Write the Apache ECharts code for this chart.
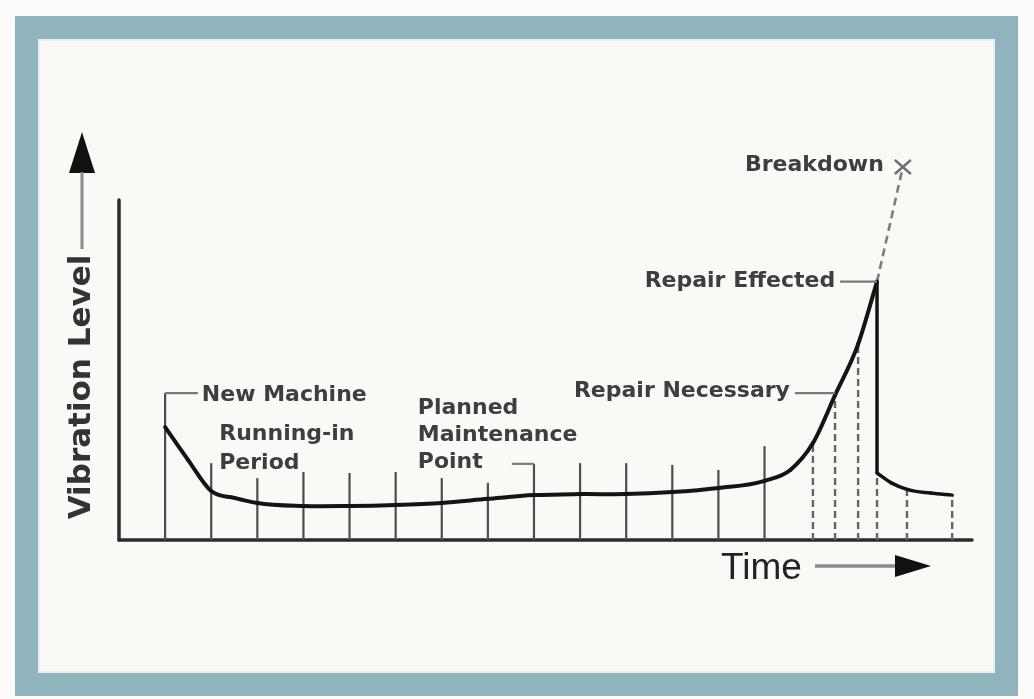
<!DOCTYPE html>
<html>
<head>
<meta charset="utf-8">
<title>Vibration Level vs Time</title>
<script src="https://cdn.jsdelivr.net/npm/echarts@6/dist/echarts.min.js"></script>
<style>
  html, body { margin: 0; padding: 0; background: #fbfbfa; }
  #chart { width: 1034px; height: 699px; }
</style>
</head>
<body>
<div id="chart"></div>
<script>
// Machine condition: vibration level over operating time.
// Time is counted in inspection intervals; level is on a 0-100 scale.

// Routine readings (solid vertical lines) and how high each line rises
const tickTimes = [1, 2, 3, 4, 5, 6, 7, 8, 9, 10, 11, 12, 13, 14];
const tickTops  = [43.2, 22.6, 18.2, 20.0, 19.7, 20.0, 18.2, 16.8, 22.4, 22.6, 22.6, 22.1, 20.6, 27.6];

// Closer readings once wear sets in, plus readings after the repair (dashed)
const checkTimes = [15.05, 15.53, 16.03, 16.44, 17.09, 18.07];
const checkTops  = [28.5, 42.6, 57.6, 19.7, 14.9, 13.2];

// Vibration from new machine up to the repair
const wearTime  = [1, 1.5, 2, 2.5, 3, 4, 5, 6, 7, 8, 9, 10, 11, 12, 13, 14, 14.56, 15.05, 15.53, 16.03, 16.44];
const wearLevel = [33.2, 23.5, 14.4, 12.4, 10.9, 10.0, 10.0, 10.3, 10.9, 12.1, 13.2, 13.5, 13.5, 14.1, 15.3, 17.4, 20.6, 28.5, 42.6, 57.6, 76.0];

// Drop in vibration when the repair is made
const repairTime  = [16.44, 16.44];
const repairLevel = [76.0, 19.7];

// Settling after the repair
const afterTime  = [16.44, 16.75, 17.09, 17.6, 18.07];
const afterLevel = [19.7, 16.8, 14.9, 13.8, 13.2];

// Where vibration would have gone without a repair
const breakdownTime  = [16.44, 17.0];
const breakdownLevel = [76.0, 109.7];

// Annotations: text, anchor (time, level) and where the leader line ends
const noteTexts  = ['New Machine', 'Running-in\nPeriod', 'Planned\nMaintenance\nPoint', 'Repair Necessary', 'Repair Effected', 'Breakdown'];
const noteTimes  = [1.71, 2, 8.52, 14.66, 15.64, 17.0];
const noteLevels = [43.2, 22.6, 22.4, 43.2, 76.0, 109.7];
const leaderEnds = [1, null, 9, 15.53, 16.44, null];

// Axis titles
const yTitle = 'Vibration Level';
const xTitle = 'Time';

// Text placement relative to each anchor, in pixels
const noteLayout = [
  { dx: 4,   dy: 2,  align: 'left',  lineH: 28 },
  { dx: 8,   dy: 0,  align: 'left',  lineH: 29 },
  { dx: -94, dy: -2, align: 'left',  lineH: 27 },
  { dx: -5,  dy: -2, align: 'right', lineH: 28 },
  { dx: -5,  dy: 0,  align: 'right', lineH: 28 },
  { dx: -19, dy: -2, align: 'right', lineH: 28 }
];

const pairs = (xs, ys) => xs.map((x, i) => [x, ys[i]]);

const noteFont = 'bold 22px "DejaVu Sans", sans-serif';
const inkText = '#3e3e3e';
const inkCurve = '#141414';
const inkTick = '#4d4d4d';
const inkLeader = '#7a7a7a';

// Smooth curve through the readings: each item draws the cubic Hermite
// segment to the next reading, with slopes from neighbouring readings.
function curveSegments(times, levels, width) {
  return (params, api) => {
    const i = params.dataIndex;
    const n = times.length;
    if (i >= n - 1) return null;
    const P = k => api.coord([times[k], levels[k]]);
    const slope = k => {
      const p = P(k);
      if (k === 0) { const q = P(1); return (q[1] - p[1]) / (q[0] - p[0]); }
      if (k === n - 1) { const o = P(k - 1); return (p[1] - o[1]) / (p[0] - o[0]); }
      const o = P(k - 1), q = P(k + 1);
      const h0 = p[0] - o[0], h1 = q[0] - p[0];
      const d0 = (p[1] - o[1]) / h0, d1 = (q[1] - p[1]) / h1;
      return (d0 * h1 + d1 * h0) / (h0 + h1);
    };
    const a = P(i), b = P(i + 1), h = b[0] - a[0];
    const ma = slope(i), mb = slope(i + 1);
    return {
      type: 'bezierCurve',
      shape: {
        x1: a[0], y1: a[1], x2: b[0], y2: b[1],
        cpx1: a[0] + h / 3, cpy1: a[1] + ma * h / 3,
        cpx2: b[0] - h / 3, cpy2: b[1] - mb * h / 3
      },
      style: { fill: 'none', stroke: inkCurve, lineWidth: width, lineCap: 'round' }
    };
  };
}

const chart = echarts.init(document.getElementById('chart'), null, { renderer: 'canvas' });

chart.setOption({
  animation: false,
  backgroundColor: '#fbfbfa',
  grid: { left: 119, right: 62, top: 200, bottom: 159, containLabel: false },
  xAxis: {
    type: 'value', min: 0, max: 18.5,
    axisLine: { show: true, onZero: false, lineStyle: { color: '#2b2b2b', width: 3.5 } },
    axisTick: { show: false }, axisLabel: { show: false }, splitLine: { show: false }
  },
  yAxis: {
    type: 'value', min: 0, max: 100,
    axisLine: { show: true, onZero: false, lineStyle: { color: '#2b2b2b', width: 3.5 } },
    axisTick: { show: false }, axisLabel: { show: false }, splitLine: { show: false }
  },
  graphic: [
    // blue card frame
    { type: 'rect', z: -20, shape: { x: 15, y: 16, width: 1003, height: 680 }, style: { fill: '#8fb4be' } },
    { type: 'rect', z: -19, shape: { x: 38, y: 39, width: 957, height: 634 }, style: { fill: '#e6eff1' } },
    { type: 'rect', z: -18, shape: { x: 40, y: 41, width: 953, height: 630 }, style: { fill: '#fbf9f6' } },
    // vertical axis title with arrow
    { type: 'polygon', z: 10, shape: { points: [[82, 132], [69, 173], [95, 173]] }, style: { fill: '#111' } },
    { type: 'line', z: 10, shape: { x1: 82, y1: 172, x2: 82, y2: 249 }, style: { stroke: '#8a8a8a', lineWidth: 3 } },
    {
      type: 'text', z: 10, x: 82, y: 387, rotation: Math.PI / 2,
      style: { text: yTitle, font: 'bold 31px "DejaVu Sans", sans-serif', fill: '#333', align: 'center', verticalAlign: 'middle' }
    },
    // horizontal axis title with arrow
    {
      type: 'text', z: 10, x: 721, y: 569,
      style: { text: xTitle, font: '37px "Liberation Sans", sans-serif', fill: '#222', align: 'left', verticalAlign: 'middle' }
    },
    { type: 'line', z: 10, shape: { x1: 815, y1: 566, x2: 898, y2: 566 }, style: { stroke: '#8a8a8a', lineWidth: 3.5 } },
    { type: 'polygon', z: 10, shape: { points: [[931, 566], [895, 555], [895, 577]] }, style: { fill: '#111' } }
  ],
  series: [
    {
      // routine readings
      type: 'custom', z: 1,
      data: pairs(tickTimes, tickTops),
      encode: { x: 0, y: 1 },
      renderItem: (params, api) => {
        const a = api.coord([api.value(0), 0]);
        const b = api.coord([api.value(0), api.value(1)]);
        return { type: 'line', shape: { x1: a[0], y1: a[1], x2: b[0], y2: b[1] }, style: { stroke: inkTick, lineWidth: 2.2 } };
      }
    },
    {
      // closer readings and post-repair readings
      type: 'custom', z: 1,
      data: pairs(checkTimes, checkTops),
      encode: { x: 0, y: 1 },
      renderItem: (params, api) => {
        const a = api.coord([api.value(0), 0]);
        const b = api.coord([api.value(0), api.value(1)]);
        return { type: 'line', shape: { x1: a[0], y1: a[1], x2: b[0], y2: b[1] }, style: { stroke: '#666', lineWidth: 2.4, lineDash: [7, 4] } };
      }
    },
    {
      // wear curve
      type: 'custom', z: 5,
      data: pairs(wearTime, wearLevel),
      encode: { x: 0, y: 1 },
      renderItem: curveSegments(wearTime, wearLevel, 4)
    },
    {
      type: 'line', z: 5, clip: false,
      data: pairs(repairTime, repairLevel),
      showSymbol: false, symbol: 'none',
      lineStyle: { color: inkCurve, width: 3.5 }
    },
    {
      // settling after repair
      type: 'custom', z: 5,
      data: pairs(afterTime, afterLevel),
      encode: { x: 0, y: 1 },
      renderItem: curveSegments(afterTime, afterLevel, 3.5)
    },
    {
      type: 'line', z: 4, clip: false,
      data: pairs(breakdownTime, breakdownLevel),
      showSymbol: false, symbol: 'none',
      lineStyle: { color: '#7d7d7d', width: 2.6, type: [8, 5] }
    },
    {
      // annotation texts, leader lines and the breakdown cross
      type: 'custom', z: 6,
      data: noteTimes.map((t, i) => [t, noteLevels[i], i]),
      encode: { x: 0, y: 1 },
      renderItem: (params, api) => {
        const i = api.value(2);
        const p = api.coord([api.value(0), api.value(1)]);
        const lay = noteLayout[i];
        const children = [];
        if (leaderEnds[i] !== null) {
          const q = api.coord([leaderEnds[i], api.value(1)]);
          children.push({ type: 'line', shape: { x1: p[0], y1: p[1], x2: q[0], y2: q[1] }, style: { stroke: inkLeader, lineWidth: 2.2 } });
        }
        const lines = noteTexts[i].split('\n');
        lines.forEach((s, k) => {
          children.push({
            type: 'text',
            x: p[0] + lay.dx,
            y: p[1] + lay.dy + (k - (lines.length - 1)) * lay.lineH,
            style: { text: s, font: noteFont, fill: inkText, align: lay.align, verticalAlign: 'middle' }
          });
        });
        if (i === noteTexts.length - 1) {
          const r = 8;
          children.push({ type: 'line', shape: { x1: p[0] - r, y1: p[1] - r + 1, x2: p[0] + r, y2: p[1] + r - 1 }, style: { stroke: '#6f6f6f', lineWidth: 2.4 } });
          children.push({ type: 'line', shape: { x1: p[0] + r, y1: p[1] - r + 1, x2: p[0] - r, y2: p[1] + r - 1 }, style: { stroke: '#6f6f6f', lineWidth: 2.4 } });
        }
        return { type: 'group', children };
      }
    }
  ]
});
</script>
</body>
</html>
